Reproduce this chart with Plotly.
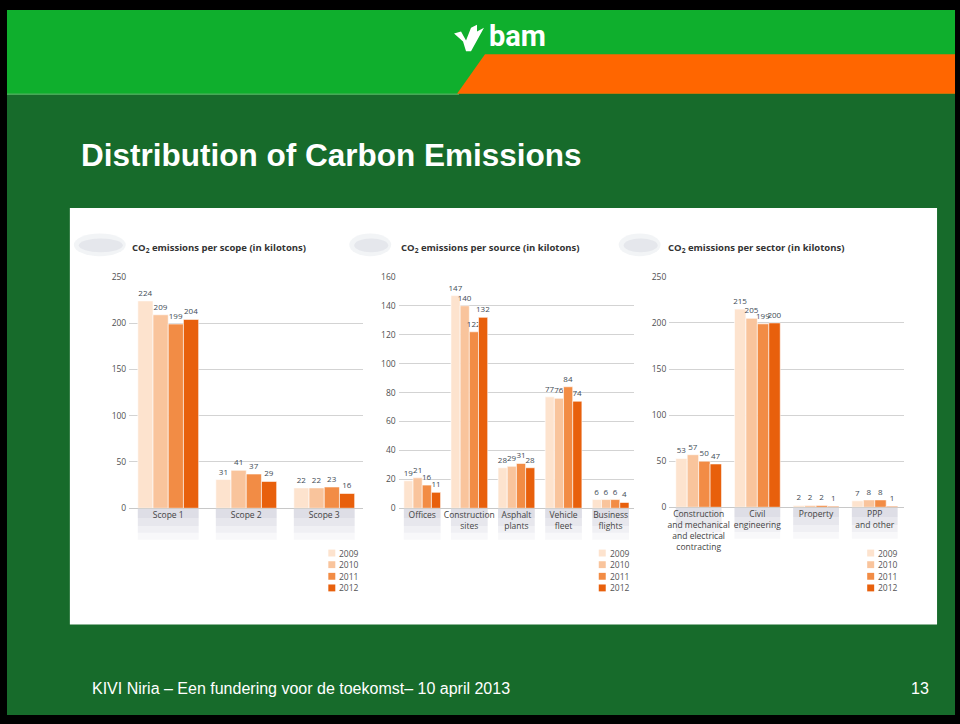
import plotly.graph_objects as go

W, H = 960, 724


def px(x):
    return x / W


def py(y):
    return 1 - y / H


# ---------------- data ----------------
years = ["2009", "2010", "2011", "2012"]
year_colors = ["#FDE3CE", "#F9C49C", "#F28C45", "#E8600C"]

scope_cats = ["Scope 1", "Scope 2", "Scope 3"]
scope_2009 = [224, 31, 22]
scope_2010 = [209, 41, 22]
scope_2011 = [199, 37, 23]
scope_2012 = [204, 29, 16]

source_cats = ["Offices", "Construction<br>sites", "Asphalt<br>plants",
               "Vehicle<br>fleet", "Business<br>flights"]
source_2009 = [19, 147, 28, 77, 6]
source_2010 = [21, 140, 29, 76, 6]
source_2011 = [16, 122, 31, 84, 6]
source_2012 = [11, 132, 28, 74, 4]

sector_cats = ["Construction<br>and mechanical<br>and electrical<br>contracting",
               "Civil<br>engineering", "Property", "PPP<br>and other"]
sector_2009 = [53, 215, 2, 7]
sector_2010 = [57, 205, 2, 8]
sector_2011 = [50, 199, 2, 8]
sector_2012 = [47, 200, 1, 1]

chart_titles = ["CO<sub>2</sub> emissions per scope (in kilotons)",
                "CO<sub>2</sub> emissions per source (in kilotons)",
                "CO<sub>2</sub> emissions per sector (in kilotons)"]

slide_title = "Distribution of Carbon Emissions"
footer_text = "KIVI Niria \u2013 Een fundering voor de toekomst\u2013 10 april 2013"
page_number = "13"

charts = [
    dict(cats=scope_cats, vals=[scope_2009, scope_2010, scope_2011, scope_2012],
         xdom=(127.5, 362), y0=510, ytop=275, yrange=(0, 250), dtick=50,
         title_x=128, cloud=(72, 124), legend_x=327),
    dict(cats=source_cats, vals=[source_2009, source_2010, source_2011, source_2012],
         xdom=(397.5, 633.5), y0=510, ytop=275, yrange=(0, 160), dtick=20,
         title_x=398, cloud=(348, 390), legend_x=598),
    dict(cats=sector_cats, vals=[sector_2009, sector_2010, sector_2011, sector_2012],
         xdom=(668.7, 904), y0=509, ytop=275, yrange=(0, 250), dtick=50,
         title_x=665, cloud=(618, 660), legend_x=867),
]

CHART_FONT = "Open Sans"

fig = go.Figure()
shapes = []
annotations = []

# ---------------- slide background ----------------
shapes += [
    dict(type="rect", xref="paper", yref="paper", layer="below",
         x0=px(5), x1=px(955), y0=py(720), y1=py(4),
         fillcolor="#176B2B", line=dict(width=0)),
    dict(type="rect", xref="paper", yref="paper", layer="below",
         x0=px(5), x1=px(955), y0=py(89), y1=py(4),
         fillcolor="#0FAF2D", line=dict(width=0)),
    dict(type="line", xref="paper", yref="paper", layer="below",
         x0=px(5), x1=px(458), y0=py(89.5), y1=py(89.5),
         line=dict(color="#63CC70", width=1)),
    dict(type="path", xref="paper", yref="paper", layer="below",
         path=f"M {px(484)} {py(49)} L {px(955)} {py(49)} L {px(955)} {py(89)} L {px(456)} {py(89)} Z",
         fillcolor="#FF6600", line=dict(width=0)),
    # logo bird
    dict(type="path", xref="paper", yref="paper", layer="above",
         path=(f"M {px(453)} {py(28)} L {px(460)} {py(26)} L {px(465)} {py(35)} "
               f"L {px(470)} {py(22)} L {px(476)} {py(19)} L {px(476)} {py(26)} "
               f"L {px(483)} {py(22)} L {px(470)} {py(46)} L {px(465)} {py(46)} "
               f"L {px(462)} {py(36)} Z"),
         fillcolor="#FFFFFF", line=dict(width=0)),
    # white panel
    dict(type="rect", xref="paper", yref="paper", layer="below",
         x0=px(68), x1=px(937), y0=py(628), y1=py(205),
         fillcolor="#FFFFFF", line=dict(width=0)),
]

annotations += [
    dict(text="<b>bam</b>", x=px(486), y=py(30), xref="paper", yref="paper",
         xanchor="left", yanchor="middle", showarrow=False,
         font=dict(family="Roboto", size=29, color="#FFFFFF")),
    dict(text="<b>" + slide_title + "</b>", x=px(77), y=py(151), xref="paper", yref="paper",
         xanchor="left", yanchor="middle", showarrow=False,
         font=dict(family="Liberation Sans", size=31.5, color="#FFFFFF")),
    dict(text=footer_text, x=px(88), y=py(693), xref="paper", yref="paper",
         xanchor="left", yanchor="middle", showarrow=False,
         font=dict(family="Liberation Sans", size=16, color="#FFFFFF")),
    dict(text=page_number, x=px(931), y=py(693), xref="paper", yref="paper",
         xanchor="right", yanchor="middle", showarrow=False,
         font=dict(family="Liberation Sans", size=16, color="#FFFFFF")),
]

layout_axes = {}
for ci, ch in enumerate(charts):
    n = ci + 1
    xa = "x" if n == 1 else f"x{n}"
    ya = "y" if n == 1 else f"y{n}"
    xkey = "xaxis" if n == 1 else f"xaxis{n}"
    ykey = "yaxis" if n == 1 else f"yaxis{n}"

    for yi, yr in enumerate(years):
        fig.add_trace(go.Bar(
            x=ch["cats"], y=ch["vals"][yi], name=yr, xaxis=xa, yaxis=ya,
            marker=dict(color=year_colors[yi], line=dict(color="#FFFFFF", width=0.6)),
            text=ch["vals"][yi], textposition="outside", cliponaxis=False,
            constraintext="none", textangle=0,
            textfont=dict(family=CHART_FONT, size=8, color="#3E4B55"),
            hoverinfo="skip", showlegend=False,
        ))

    layout_axes[xkey] = dict(
        domain=[px(ch["xdom"][0]), px(ch["xdom"][1])], anchor=ya,
        type="category", showgrid=False, zeroline=False, showline=False,
        ticks="", tickfont=dict(family=CHART_FONT, size=8.5, color="#444444"),
        fixedrange=True,
    )
    layout_axes[ykey] = dict(
        domain=[py(ch["y0"]), py(ch["ytop"])], anchor=xa,
        range=list(ch["yrange"]), dtick=ch["dtick"], tick0=0,
        showgrid=True, gridcolor="#D3D3D3", gridwidth=1,
        zeroline=True, zerolinecolor="#C8C8C8", zerolinewidth=1,
        showline=False, ticks="", ticklabelstandoff=2,
        tickfont=dict(family=CHART_FONT, size=8.5, color="#505050"),
        fixedrange=True,
    )

    # gray label boxes under each category (fading)
    stripes = [(0, 10, 0.9), (10, 18, 0.65), (18, 25, 0.4), (25, 32, 0.18)]
    for k in range(len(ch["cats"])):
        for (a, b, op) in stripes:
            shapes.append(dict(type="rect", xref=xa, yref="paper", layer="below",
                               x0=k - 0.39, x1=k + 0.39,
                               y0=py(ch["y0"] + b), y1=py(ch["y0"] + a),
                               fillcolor="#DADAE3", opacity=op, line=dict(width=0)))

    # title cloud (soft smear)
    c0, c1 = ch["cloud"]
    shapes.append(dict(type="circle", xref="paper", yref="paper", layer="below",
                       x0=px(c0), x1=px(c1), y0=py(254), y1=py(231),
                       fillcolor="#E3E6EC", opacity=0.45, line=dict(width=0)))
    shapes.append(dict(type="circle", xref="paper", yref="paper", layer="below",
                       x0=px(c0 + 5), x1=px(c1 - 3), y0=py(250), y1=py(236),
                       fillcolor="#D4D8E0", opacity=0.45, line=dict(width=0)))

    annotations.append(dict(text="<b>" + chart_titles[ci] + "</b>",
                            x=px(ch["title_x"]), y=py(246), xref="paper", yref="paper",
                            xanchor="left", yanchor="middle", showarrow=False,
                            font=dict(family=CHART_FONT, size=9.5, color="#333333")))

    # legend
    for yi, yr in enumerate(years):
        ry = 555.5 + 11.8 * yi
        lx = ch["legend_x"]
        shapes.append(dict(type="rect", xref="paper", yref="paper", layer="above",
                           x0=px(lx), x1=px(lx + 7), y0=py(ry + 3.5), y1=py(ry - 3.5),
                           fillcolor=year_colors[yi], line=dict(width=0)))
        annotations.append(dict(text=yr, x=px(lx + 9), y=py(ry), xref="paper", yref="paper",
                                xanchor="left", yanchor="middle", showarrow=False,
                                font=dict(family=CHART_FONT, size=8.5, color="#555555")))

fig.update_layout(
    autosize=True,
    margin=dict(l=0, r=0, t=0, b=0, pad=0),
    paper_bgcolor="#000000", plot_bgcolor="rgba(0,0,0,0)",
    barmode="group", bargap=0.22, bargroupgap=0,
    showlegend=False, shapes=shapes, annotations=annotations,
    **layout_axes,
)

fig.write_html(
    "out.html",
    config={"displayModeBar": False, "responsive": True},
    default_width="100vw", default_height="100vh",
    post_script=("document.documentElement.style.margin='0';"
                 "document.documentElement.style.overflow='hidden';"
                 "document.body.style.margin='0';document.body.style.padding='0';"
                 "document.body.style.overflow='hidden';"
                 "Plotly.Plots.resize(document.getElementById('{plot_id}'));"),
)
